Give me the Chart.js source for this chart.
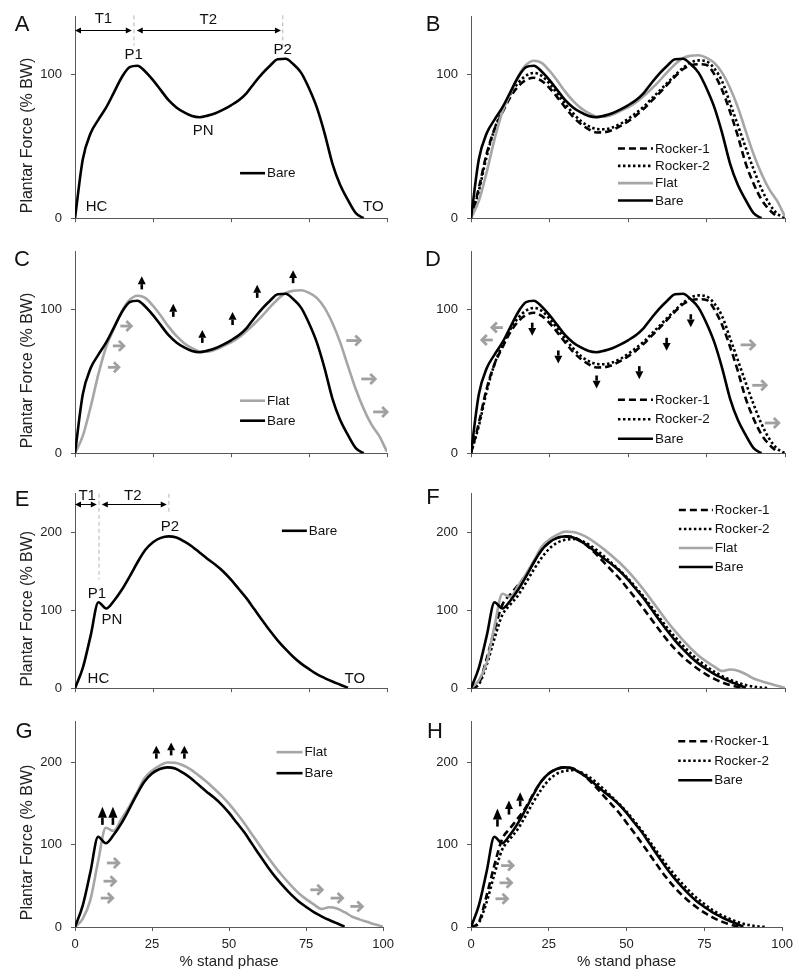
<!DOCTYPE html>
<html>
<head>
<meta charset="utf-8">
<script src="https://cdn.jsdelivr.net/npm/chart.js@4.4.0/dist/chart.umd.min.js"></script>
<style>
  html, body { margin: 0; padding: 0; background: #fff; }
  #fig { position: relative; width: 799px; height: 979px; overflow: hidden; }
  .panel { position: absolute; }
</style>
</head>
<body>
<div id="fig"></div>
<script>
// % stand phase sample points
const pct = [0, 2.5, 5, 7.5, 10, 12.5, 15, 17.5, 20, 22.5, 25, 27.5, 30, 32.5, 35, 37.5, 40,
  42.5, 45, 47.5, 50, 52.5, 55, 57.5, 60, 62.5, 65, 67.5, 70, 72.5, 75, 77.5, 80, 82.5, 85,
  87.5, 90, 92.5, 95, 97.5, 100];

// panels A-D (plantar force, % BW)
const bareAD = [0, 41, 59, 68.5, 77, 87.5, 98, 105, 106, 102, 96, 89, 82, 77, 73.5, 71, 70.2,
  71.3, 73, 75.5, 78.5, 82, 87, 94, 100.5, 106, 110.5, 110.8, 107, 101, 90.3, 77, 59, 38, 23,
  12.5, 3.5, 0, null, null, null];
const flatAD = [0, 12, 32, 55, 74, 86.5, 98.5, 106.5, 109.5, 108, 102.5, 95.5, 88, 81.5, 76.5,
  73, 70.7, 70.6, 72, 74.5, 77, 80.5, 85, 90, 95.5, 101.5, 107, 111.3, 112.9, 113.3, 111.5, 108,
  101, 90.5, 77, 60.5, 44.5, 31, 20, 12, 1];
const rocker1AD = [0, 21, 45, 62, 73.5, 84, 91.5, 96, 97.6, 95.5, 90.5, 84, 77, 70.5, 65.5, 61.8,
  59.6, 59.8, 61.3, 64, 67.3, 71.3, 76, 81.5, 87, 92.8, 98.5, 103.5, 106.2, 107, 106.5, 100, 89,
  74, 57, 38, 24, 13, 6, 1, null];
const rocker2AD = [0, 19, 43, 62, 75, 86, 94, 99, 101, 99, 93.5, 86.5, 79.5, 73, 67.5, 64, 62,
  61.8, 63, 65.5, 69, 73, 77.5, 83, 88.5, 94, 99.5, 104.5, 108.3, 109.7, 109, 104, 95, 80, 64.5,
  49, 34, 20.5, 10, 3.2, 0];

// panels E-H
const bareEH = [0, 26, 67, 110, 102, 112, 126, 143, 161, 177, 187, 192.5, 194.5, 193, 188, 181.5,
  173.5, 165.5, 158, 149.5, 139, 127, 115, 101, 87, 73.5, 61, 50, 40, 31.5, 24.5, 18, 13, 8.5,
  4.5, 0.5, null, null, null, null, null];
const flatEH = [0, 10, 33, 80, 121, 117, 131, 146, 163, 181, 190.5, 196.5, 200.5, 200, 197, 192,
  185, 177.5, 169, 160, 150, 138.5, 126, 112.5, 99, 85.5, 73, 61.5, 51, 41.5, 34, 27.5, 22, 24,
  22.5, 18, 12.5, 9, 6, 3, 0.5];
const rocker1EH = [0, 6, 38, 75, 107, 120, 132, 145, 162, 177, 187, 192.5, 194.5, 193.5, 188.5,
  180.5, 171, 160.5, 150, 139.5, 127, 114.5, 101.5, 88, 74.5, 61.5, 50, 40, 31.5, 24, 17.5, 12,
  7.5, 4, 1.5, 0, null, null, null, null, null];
const rocker2EH = [0, 5, 30, 64, 94, 107, 119, 135, 152, 167, 179, 186.5, 190, 191, 189, 184, 177,
  168.5, 159.5, 150.5, 140.5, 129, 117, 104, 90.5, 77.5, 65.5, 54.5, 44.5, 35.5, 28, 21, 15.5,
  11, 7, 4, 2, 0.7, 0, null, null];

const xTicks = [0, 25, 50, 75, 100];

const FONT = '"Liberation Sans", Arial, Helvetica, sans-serif';
Chart.defaults.font.family = FONT;
Chart.defaults.color = '#222';

const styles = {
  r1: { label: 'Rocker-1', color: '#000', dash: [7, 4], width: 2.6 },
  r2: { label: 'Rocker-2', color: '#000', dash: [2.5, 2.5], width: 2.6 },
  flat: { label: 'Flat', color: '#a6a6a6', dash: [], width: 2.6 },
  bare: { label: 'Bare', color: '#000', dash: [], width: 2.6 }
};
const seriesAD = { r1: rocker1AD, r2: rocker2AD, flat: flatAD, bare: bareAD };
const seriesEH = { r1: rocker1EH, r2: rocker2EH, flat: flatEH, bare: bareEH };

// annotations, in data units
const arrowsC = [[21.4, 118.4, 'up', 13], [31.5, 99.3, 'up', 13], [40.8, 81.2, 'up', 13],
  [50.5, 93.6, 'up', 13], [58.4, 112.5, 'up', 13], [69.9, 122.7, 'up', 13],
  [16.3, 88.4, 'right', 11], [13.9, 74.6, 'right', 11], [12.3, 59.7, 'right', 11],
  [89.2, 78.3, 'right', 14], [94, 51.6, 'right', 14], [97.8, 28.7, 'right', 14]];
const arrowsD = [[19.5, 86.2, 'down', 13], [27.8, 66.9, 'down', 13], [40, 49.5, 'down', 13],
  [53.6, 56, 'down', 13], [62.3, 75.7, 'down', 13], [70, 92.1, 'down', 13],
  [8.4, 87.3, 'left', 11], [5.2, 78.7, 'left', 11],
  [88.1, 75.3, 'right', 14], [91.8, 47.2, 'right', 14], [95.8, 21, 'right', 14]];
const arrowsG = [[8.9, 135.4, 'up', 18], [12.3, 135.4, 'up', 18], [26.4, 213, 'up', 13],
  [31.2, 217, 'up', 13], [35.5, 213, 'up', 13],
  [12.3, 78, 'right', 12], [11.2, 55.8, 'right', 12], [10.3, 35.2, 'right', 12],
  [78.3, 45.3, 'right', 12], [84.9, 35.2, 'right', 12], [91.3, 25.1, 'right', 12]];
const arrowsH = [[8.5, 133.3, 'up', 18], [12.2, 145.5, 'up', 14], [15.8, 155.6, 'up', 14],
  [11.6, 74.8, 'right', 12], [11.1, 53.8, 'right', 12], [9.8, 34.4, 'right', 12]];

const textA = [['T1', 9.1, 138.5], ['T2', 42.7, 138], ['P1', 18.8, 113.3], ['P2', 66.6, 117.3],
  ['PN', 41.1, 60.4], ['HC', 6.9, 7.9], ['TO', 95.6, 7.9]];
const textE = [['T1', 3.9, 246], ['T2', 18.5, 246], ['P1', 7, 121.4], ['P2', 30.4, 206],
  ['PN', 11.8, 87], ['HC', 7.5, 12.6], ['TO', 89.7, 12.6]];
const guidesA = [[18.9, 141, 120], [66.6, 141, 119]];
const guidesE = [[7.7, 249, 139.5], [30.1, 249, 222]];
const spansA = [[0, 18.2, 131], [19.8, 66, 131]];
const spansE = [[0, 7, 236], [8.6, 29.4, 236]];

const rowTop = [0, 235, 470, 705];
const rowHeight = [235, 235, 235, 274];
const padTop = [15, 15, 23, 15];

const panels = [
  { id: 'A', col: 0, row: 0, data: seriesAD, keys: ['bare'], letter: [22, 25],
    legend: { x: 52.9, y: 31.3, dy: 0, len: 25 }, text: textA, guides: guidesA, spans: spansA, arrows: [] },
  { id: 'B', col: 1, row: 0, data: seriesAD, keys: ['r1', 'r2', 'flat', 'bare'], letter: [33, 25],
    legend: { x: 46.8, y: 48.4, dy: 17.3, len: 35 }, text: [], guides: [], spans: [], arrows: [] },
  { id: 'C', col: 0, row: 1, data: seriesAD, keys: ['flat', 'bare'], letter: [22, 25],
    legend: { x: 52.9, y: 36.5, dy: 20, len: 25 }, text: [], guides: [], spans: [], arrows: arrowsC },
  { id: 'D', col: 1, row: 1, data: seriesAD, keys: ['r1', 'r2', 'bare'], letter: [33, 25],
    legend: { x: 46.8, y: 37.2, dy: 19.5, len: 35 }, text: [], guides: [], spans: [], arrows: arrowsD },
  { id: 'E', col: 0, row: 2, data: seriesEH, keys: ['bare'], letter: [22, 30],
    legend: { x: 66.3, y: 201.6, dy: 0, len: 25 }, text: textE, guides: guidesE, spans: spansE, arrows: [] },
  { id: 'F', col: 1, row: 2, data: seriesEH, keys: ['r1', 'r2', 'flat', 'bare'], letter: [33, 28],
    legend: { x: 66.2, y: 228.2, dy: 19, len: 34 }, text: [], guides: [], spans: [], arrows: [] },
  { id: 'G', col: 0, row: 3, data: seriesEH, keys: ['flat', 'bare'], letter: [24, 27],
    legend: { x: 65.4, y: 213, dy: 21, len: 26 }, text: [], guides: [], spans: [], arrows: arrowsG },
  { id: 'H', col: 1, row: 3, data: seriesEH, keys: ['r1', 'r2', 'bare'], letter: [35, 27],
    legend: { x: 66.6, y: 226.3, dy: 19.5, len: 34 }, text: [], guides: [], spans: [], arrows: arrowsH }
];

function drawArrow(ctx, px, py, dir, len) {
  if (dir === 'up' || dir === 'down') {
    const s = dir === 'up' ? -1 : 1;
    const tip = py + s * len / 2, tail = py - s * len / 2;
    const hl = len * 0.6, hw = len > 15 ? 4.6 : 4;
    ctx.fillStyle = '#000';
    ctx.fillRect(px - 1.3, Math.min(tail, tip - s * hl), 2.6, Math.abs(tail - (tip - s * hl)));
    ctx.beginPath();
    ctx.moveTo(px, tip);
    ctx.lineTo(px - hw, tip - s * hl);
    ctx.lineTo(px + hw, tip - s * hl);
    ctx.closePath();
    ctx.fill();
  } else {
    const s = dir === 'right' ? 1 : -1;
    const tip = px + s * len / 2, tail = px - s * len / 2;
    ctx.strokeStyle = '#a0a0a0';
    ctx.lineWidth = 2.8;
    ctx.lineCap = 'butt';
    ctx.lineJoin = 'miter';
    ctx.setLineDash([]);
    ctx.beginPath();
    ctx.moveTo(tail, py);
    ctx.lineTo(tip - s * 1, py);
    ctx.stroke();
    ctx.beginPath();
    ctx.moveTo(tip - s * 5, py - 5);
    ctx.lineTo(tip, py);
    ctx.lineTo(tip - s * 5, py + 5);
    ctx.stroke();
  }
}

function decor(p) {
  return {
    id: 'decor' + p.id,
    afterDatasetsDraw(chart) {
      const { ctx, chartArea: a, scales: { x, y } } = chart;
      const X = v => x.getPixelForValue(v);
      const Y = v => y.getPixelForValue(v);
      ctx.save();

      ctx.fillStyle = '#111';
      ctx.textAlign = 'center';
      ctx.textBaseline = 'middle';
      ctx.font = '22px ' + FONT;
      ctx.fillText(p.id, p.letter[0], p.letter[1]);

      if (p.col === 0) {
        ctx.save();
        ctx.translate(28, (a.top + a.bottom) / 2 + 18);
        ctx.rotate(-Math.PI / 2);
        ctx.font = '16px ' + FONT;
        ctx.fillStyle = '#222';
        ctx.fillText('Plantar Force (% BW)', 0, 0);
        ctx.restore();
      }

      // dashed guides at peaks
      ctx.strokeStyle = '#b4b4b4';
      ctx.lineWidth = 1;
      ctx.setLineDash([4, 3]);
      p.guides.forEach(g => {
        ctx.beginPath();
        ctx.moveTo(X(g[0]), Y(g[1]));
        ctx.lineTo(X(g[0]), Y(g[2]));
        ctx.stroke();
      });
      ctx.setLineDash([]);

      // T1 / T2 double arrows
      ctx.strokeStyle = '#000';
      ctx.fillStyle = '#000';
      ctx.lineWidth = 1;
      p.spans.forEach(s => {
        const x0 = X(s[0]), x1 = X(s[1]), yy = Math.round(Y(s[2])) + 0.5;
        ctx.beginPath();
        ctx.moveTo(x0 + 2, yy);
        ctx.lineTo(x1 - 2, yy);
        ctx.stroke();
        [[x0, 1], [x1, -1]].forEach(([xe, d]) => {
          ctx.beginPath();
          ctx.moveTo(xe, yy);
          ctx.lineTo(xe + d * 6, yy - 3);
          ctx.lineTo(xe + d * 6, yy + 3);
          ctx.closePath();
          ctx.fill();
        });
      });

      ctx.font = '15px ' + FONT;
      ctx.fillStyle = '#111';
      p.text.forEach(t => ctx.fillText(t[0], X(t[1]), Y(t[2])));

      p.arrows.forEach(r => drawArrow(ctx, X(r[0]), Y(r[1]), r[2], r[3]));

      // legend
      const lg = p.legend;
      ctx.font = '13.5px ' + FONT;
      ctx.textAlign = 'left';
      p.keys.forEach((k, i) => {
        const st = styles[k];
        const lx = X(lg.x), ly = Y(lg.y) + i * lg.dy;
        ctx.strokeStyle = st.color;
        ctx.lineWidth = st.width;
        ctx.setLineDash(st.dash);
        ctx.lineCap = 'butt';
        ctx.beginPath();
        ctx.moveTo(lx, ly);
        ctx.lineTo(lx + lg.len, ly);
        ctx.stroke();
        ctx.setLineDash([]);
        ctx.fillStyle = '#111';
        ctx.fillText(st.label, lx + lg.len + 2, ly + 0.5);
      });
      ctx.restore();
    }
  };
}

const fig = document.getElementById('fig');

panels.forEach(p => {
  const last = p.row === 3;
  const yMax = p.data === seriesAD ? 140 : 250;
  const box = document.createElement('div');
  box.className = 'panel';
  const left = p.col === 0 ? 0 : 400;
  const width = p.col === 0 ? 400 : 399;
  box.style.left = left + 'px';
  box.style.top = rowTop[p.row] + 'px';
  box.style.width = width + 'px';
  box.style.height = rowHeight[p.row] + 'px';
  const cv = document.createElement('canvas');
  box.appendChild(cv);
  fig.appendChild(box);

  const datasets = p.keys.slice().reverse().map(k => ({
    label: styles[k].label,
    data: pct.map((v, i) => ({ x: v, y: p.data[k][i] })),
    borderColor: styles[k].color,
    borderWidth: styles[k].width,
    borderDash: styles[k].dash,
    borderCapStyle: 'butt',
    pointRadius: 0,
    fill: false,
    spanGaps: false,
    cubicInterpolationMode: 'monotone'
  }));

  new Chart(cv, {
    type: 'line',
    data: { datasets },
    options: {
      responsive: true,
      maintainAspectRatio: false,
      animation: false,
      devicePixelRatio: 1,
      layout: { padding: { top: padTop[p.row], right: p.col === 0 ? 13 : 14, bottom: last ? 4 : 0, left: 0 } },
      plugins: { legend: { display: false }, tooltip: { enabled: false } },
      scales: {
        x: {
          type: 'linear', min: 0, max: 100,
          afterBuildTicks: s => { s.ticks = xTicks.map(v => ({ value: v })); },
          ticks: { display: last, padding: 6, font: { size: 13 }, color: '#222' },
          grid: { drawOnChartArea: false, tickLength: 4, color: '#595959' },
          border: { color: '#595959' },
          title: { display: last, text: '% stand phase', font: { size: 15 }, color: '#222', padding: { top: 4, bottom: 4 } },
          afterFit: s => { s.height = last ? 48 : 6; }
        },
        y: {
          min: 0, max: yMax,
          afterBuildTicks: s => { s.ticks = s.ticks.filter(t => t.value % 100 === 0 && t.value < yMax); },
          ticks: { stepSize: 100, padding: 9, font: { size: 13 }, color: '#222' },
          grid: { drawOnChartArea: false, tickLength: 4, color: '#595959' },
          border: { color: '#595959' },
          afterFit: s => { s.width = p.col === 0 ? 75 : 71; }
        }
      }
    },
    plugins: [decor(p)]
  });
});
</script>
</body>
</html>
